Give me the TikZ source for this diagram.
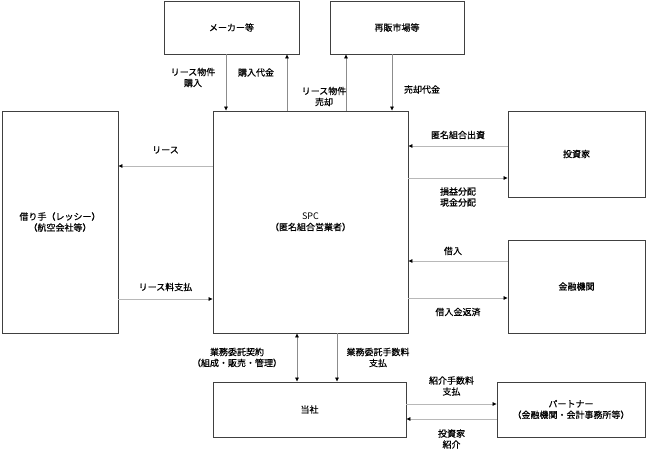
\documentclass[tikz,border=0pt]{standalone}
\usepackage{fontspec}
\newfontfamily\jpfont{Noto Sans CJK JP}[FakeBold=0.5]
\newfontfamily\latinfont{Noto Sans CJK JP}
\usetikzlibrary{arrows.meta}

\tikzset{
  party/.style={draw=black!75, line width=0.9pt, inner sep=0pt, align=center,
    font=\jpfont\fontsize{9}{11}\selectfont},
  flow/.style={draw=black!28, line width=0.7pt, -{Triangle[length=4pt,width=3.6pt,color=black]}},
  vflow/.style={flow, draw=black!45},
  lbl/.style={inner sep=0pt, align=center, font=\jpfont\fontsize{9}{11}\selectfont}
}

\begin{document}
\begin{tikzpicture}[x=1pt, y=-1pt]
  \useasboundingbox (0,0) rectangle (650,457);

  \node[party, minimum width=135pt, minimum height=53pt] (maker) at (231.5,27.5) {メーカー等};
  \node[party, minimum width=134pt, minimum height=53pt] (resale) at (397,27.5) {再販市場等};
  \node[party, minimum width=116pt, minimum height=222pt] (lessee) at (60,222) {借り手（レッシー）\\（航空会社等）};
  \node[party, minimum width=195pt, minimum height=222pt] (spc) at (310.5,222) {{\latinfont SPC}\\（匿名組合営業者）};
  \node[party, minimum width=137pt, minimum height=86pt] (investor) at (576.5,154) {投資家};
  \node[party, minimum width=137pt, minimum height=93pt] (bank) at (576.5,286.5) {金融機関};
  \node[party, minimum width=193pt, minimum height=55pt] (company) at (309.5,409.5) {当社};
  \node[party, minimum width=148pt, minimum height=55pt] (partner) at (571,409.5) {パートナー\\（金融機関・会計事務所等）};

  % maker / resale market
  \draw[vflow] ([xshift=-5.5pt]maker.south) -- node[lbl, xshift=-33pt, yshift=5pt] {リース物件\\購入} ([xshift=-5.5pt]maker.south |- spc.north);
  \draw[vflow] ([xshift=55.5pt]maker.south |- spc.north) -- node[lbl, xshift=-31pt, yshift=10pt] {購入代金} ([xshift=55.5pt]maker.south);
  \draw[vflow] ([xshift=-51pt]resale.south |- spc.north) -- node[lbl, xshift=-22pt, yshift=-14pt] {リース物件\\売却} ([xshift=-51pt]resale.south);
  \draw[vflow] ([xshift=-5pt]resale.south) -- node[lbl, xshift=30pt, yshift=-7pt] {売却代金} ([xshift=-5pt]resale.south |- spc.north);

  % lessee
  \draw[flow] ([yshift=56pt]spc.west) -- node[lbl, yshift=16pt] {リース} ([yshift=56pt]spc.west -| lessee.east);
  \draw[flow] ([yshift=-77pt]spc.west -| lessee.east) -- node[lbl, yshift=12pt] {リース料支払} ([yshift=-77pt]spc.west);

  % investor / bank
  \draw[flow] ([yshift=8pt]investor.west) -- node[lbl, yshift=11pt] {匿名組合出資} ([yshift=8pt]investor.west -| spc.east);
  \draw[flow] ([yshift=-24pt]investor.west -| spc.east) -- node[lbl, yshift=-19pt] {損益分配\\現金分配} ([yshift=-24pt]investor.west);
  \draw[flow] ([yshift=25.5pt]bank.west) -- node[lbl, xshift=-5pt, yshift=10pt] {借入} ([yshift=25.5pt]bank.west -| spc.east);
  \draw[flow] ([yshift=-11.5pt]bank.west -| spc.east) -- node[lbl, yshift=-14pt] {借入金返済} ([yshift=-11.5pt]bank.west);

  % company / partner
  \draw[vflow, {Triangle[length=4pt,width=3.6pt,color=black]}-{Triangle[length=4pt,width=3.6pt,color=black]}] ([xshift=-13.5pt]spc.south) -- node[lbl, xshift=-60pt] {業務委託契約\\（組成・販売・管理）} ([xshift=-13.5pt]spc.south |- company.north);
  \draw[vflow] ([xshift=26.5pt]spc.south) -- node[lbl, xshift=41pt] {業務委託手数料\\支払} ([xshift=26.5pt]spc.south |- company.north);
  \draw[flow] ([yshift=5.5pt]company.east) -- node[lbl, yshift=18pt] {紹介手数料\\支払} ([yshift=5.5pt]company.east -| partner.west);
  \draw[flow] ([yshift=-9.5pt]partner.west) -- node[lbl, yshift=-20pt] {投資家\\紹介} ([yshift=-9.5pt]partner.west -| company.east);
\end{tikzpicture}
\end{document}
